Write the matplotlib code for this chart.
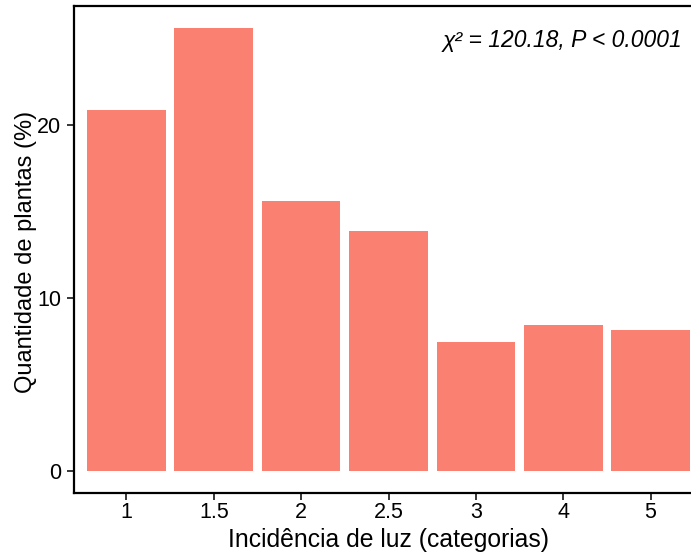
import matplotlib.pyplot as plt
import numpy as np

plt.rcParams['font.family'] = ['Liberation Sans', 'DejaVu Sans']

categorias = ['1', '1.5', '2', '2.5', '3', '4', '5']
quantidade = [20.85, 25.6, 15.6, 13.85, 7.45, 8.45, 8.15]
yticks = [0, 10, 20]

fig = plt.figure(figsize=(6.91, 5.52), dpi=100)
# o painel passa um pouco da borda direita, como na figura original
ax = fig.add_axes([74/691, 59/552, 629/691, 487/552])

x = np.arange(1, len(categorias) + 1)
ax.bar(x, quantidade, width=0.9, color='#FA8072')

ax.set_xlim(0.4, len(categorias) + 0.6)
ymax = max(quantidade)
ax.set_ylim(-0.05 * ymax, 1.05 * ymax)
ax.set_xticks(x)
ax.set_xticklabels(categorias)
ax.set_yticks(yticks)

for s in ['left', 'bottom', 'top']:
    ax.spines[s].set_linewidth(1.6)
ax.spines['right'].set_visible(False)
ax.tick_params(axis='both', labelsize=15.5, length=5, width=1.1, colors='black', pad=4)
ax.tick_params(axis='x', pad=1.5)

ax.set_xlabel('Incidência de luz (categorias)', fontsize=17.8)
ax.set_ylabel('Quantidade de plantas (%)', fontsize=17)
ax.xaxis.set_label_coords(0.5, -35/487, transform=ax.transAxes)
ax.yaxis.set_label_coords(-37/629, 0.495, transform=ax.transAxes)

ax.text(7.37, 24.9, 'χ² = 120.18, P < 0.0001', ha='right', va='center',
        fontsize=16.5, style='italic')

plt.savefig('out.png', dpi=100)
